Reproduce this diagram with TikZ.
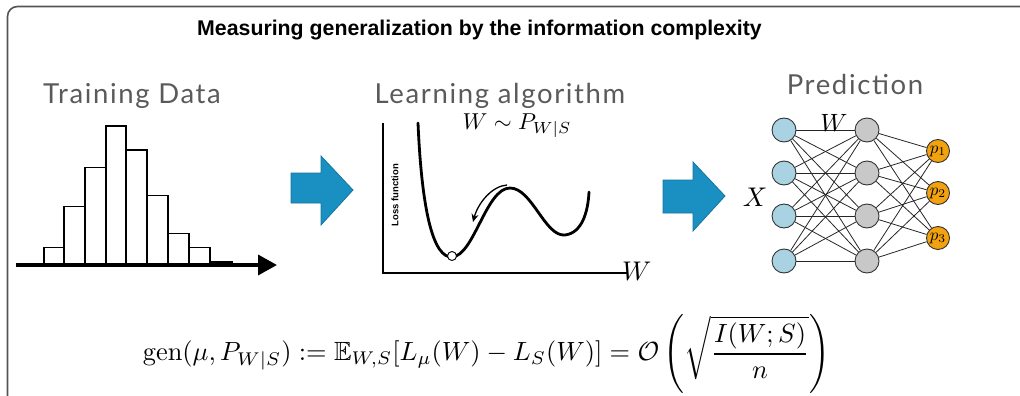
\documentclass[tikz,border=0pt]{standalone}
\usepackage{amsmath,amssymb}
\usepackage{fontspec}
\newfontfamily\titlefont{Liberation Sans}
\newfontfamily\labelfont[LetterSpace=6]{Lato}
\usetikzlibrary{arrows.meta,backgrounds}
\newcommand{\bigmath}[2]{\scalebox{#1}{$#2$}}
\definecolor{framegray}{HTML}{555555}
\definecolor{bigblue}{HTML}{1A8FC1}
\definecolor{bigblueedge}{HTML}{1476A0}
\definecolor{inblue}{HTML}{A9D3E3}
\definecolor{hidgray}{HTML}{C8C8C8}
\definecolor{outorange}{HTML}{F2A20F}
\definecolor{labgray}{HTML}{5A5A5A}
\tikzset{
  heading/.style={font=\labelfont\fontsize{27.5}{30}\selectfont, text=labgray, inner sep=0pt},
  bar/.style={draw=black, fill=white, line width=1.4pt},
  bigarrow/.style={fill=bigblue, draw=bigblueedge, line width=0.8pt},
  innode/.style={circle, draw=black!80, fill=inblue, line width=0.9pt, minimum size=24pt, inner sep=0pt},
  hidnode/.style={circle, draw=black!80, fill=hidgray, line width=0.9pt, minimum size=24pt, inner sep=0pt},
  outnode/.style={circle, draw=black!80, fill=outorange, line width=0.9pt, minimum size=23pt, inner sep=0pt},
  edge/.style={draw=black!85, line width=0.8pt},
}
\begin{document}
\begin{tikzpicture}[x=1pt, y=-1pt]
\useasboundingbox (0,0) rectangle (1020,396);
% frame
\draw[framegray, line width=1.6pt, rounded corners=10pt] (7.5,420) -- (7.5,6.5) -- (1040,6.5);
% title
\node[font=\titlefont\bfseries\fontsize{21.3}{24}\selectfont, inner sep=0pt] (title) at (479.5,30) {Measuring generalization by the information complexity};
% headings
\node[heading, anchor=base] (train) at (132,103) {Training Data};
\node[heading, anchor=base] (learn) at (500,103) {Learning algorithm};
\node[heading, anchor=base] (pred) at (855,95) {Prediction};
% histogram
\foreach \xa/\xb/\h in {44/64/247.3, 64/85/206.7, 85/106/167.3, 106/126/126, 126/147/150, 147/168/195.3, 168/189/233.3, 189/210/247.3, 210/232/262}
  \draw[bar] (\xa,265) rectangle (\xb,\h);
\coordinate (hstart) at (16,265);
\coordinate (hend) at (277,265);
\draw[line width=3.6pt, -{Triangle[length=19pt,width=20pt]}] (hstart) -- (hend);
% big arrows
\draw[bigarrow] (291,173) -- (321,173) -- (321,156) -- (353,190) -- (321,225) -- (321,203) -- (291,203) -- cycle;
\draw[bigarrow] (663,180) -- (693,180) -- (693,162) -- (725,196) -- (693,231) -- (693,213) -- (663,213) -- cycle;
% loss plot
\coordinate (ytop) at (383,123);
\coordinate (origin) at (383,273);
\coordinate (xend) at (628,273);
\draw[line width=1.8pt] (ytop) -- (origin) -- (xend);
\node[anchor=west, inner sep=0pt] (wax) at (622,271) {\bigmath{2.7}{W}};
\node[rotate=90, inner sep=0pt, font=\titlefont\bfseries\fontsize{9.5}{10}\selectfont] (lossl) at (395,195) {Loss function};
\node[inner sep=0pt] (wdist) at (517,126) {\bigmath{2.3}{W\sim P_{W|S}}};
\draw[line width=2.8pt, line cap=round] (418,123) .. controls (422,215) and (434,258) .. (452,257)
  .. controls (474,256) and (486,188) .. (510,188)
  .. controls (532,188) and (545,237) .. (565,235)
  .. controls (582,233) and (588,212) .. (589,192);
\node[circle, draw=black, fill=white, line width=0.9pt, minimum size=9pt, inner sep=0pt] (ball) at (452,256) {};
\coordinate (ga) at (507,185);
\coordinate (gb) at (473,222);
\draw[line width=1.3pt, -{Stealth[length=8pt,width=7pt]}] (ga) .. controls (492,186) and (478,203) .. (gb);
% network
\foreach \i/\y in {1/130, 2/173, 3/216, 4/261} {
  \node[innode] (i\i) at (784,\y) {};
  \node[hidnode] (h\i) at (867,\y) {};
}
\foreach \k/\y in {1/151, 2/193, 3/238}
  \node[outnode] (o\k) at (938,\y) {\bigmath{1.7}{p_{\k}}};
\begin{scope}[on background layer]
\foreach \i in {1,...,4} {
  \foreach \j in {1,...,4}
    \draw[edge] (i\i) -- (h\j);
  \foreach \k in {1,...,3}
    \draw[edge] (h\i) -- (o\k);
}
\end{scope}
\node[inner sep=0pt] (wnet) at (834,123) {\bigmath{2.5}{W}};
\node[inner sep=0pt] (xnet) at (755,197) {\bigmath{2.7}{X}};
% formula
\node[inner sep=0pt] (formula) at (486.5,354) {\resizebox{687pt}{!}{$\displaystyle \mathrm{gen}(\mu, P_{W|S}) := \mathbb{E}_{W,S}[L_\mu(W) - L_S(W)] = \mathcal{O}\left(\sqrt{\frac{I(W;S)}{n}}\right)$}};
\end{tikzpicture}
\end{document}
